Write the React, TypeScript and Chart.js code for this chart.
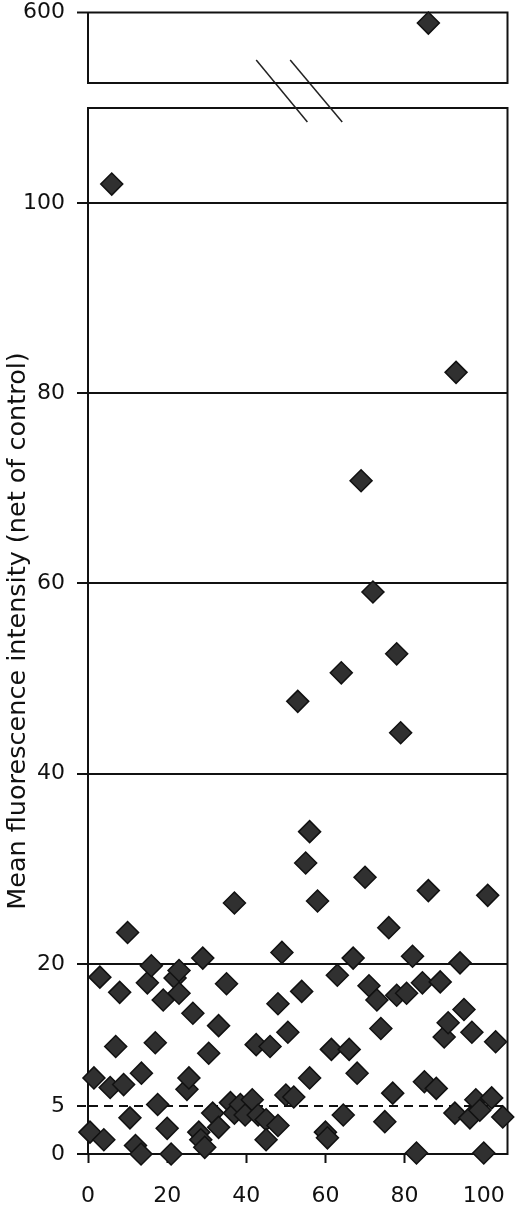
import { useEffect, useRef } from "react";
import { Chart, registerables } from "chart.js";

Chart.register(...registerables);

// Sample number (x) and mean fluorescence intensity, net of control (y)
const sampleIndex = [
  0.5, 1.5, 3, 4, 5.6, 6, 7, 8, 9, 10, 10.6, 12, 13.4, 13.5, 15, 16, 17, 17.6, 19, 20,
  21, 22, 23, 23, 25, 25.5, 26.5, 28, 28.5, 29, 29.5, 30.5, 31.5, 33, 33, 35, 36, 37, 37, 38.5,
  39.7, 41.5, 42.5, 43, 45, 45, 46, 48, 48, 49, 50, 50.5, 52, 53, 54, 55, 56, 56, 58, 60,
  60.5, 61.5, 63, 64, 64.5, 66, 67, 68, 69, 70, 71, 72, 73, 74, 75, 76, 77, 78, 78, 79,
  80.5, 82, 83, 84.5, 85, 86, 86, 88, 89, 90, 91, 92.7, 93, 94, 95, 96.5, 97, 98, 99, 100,
  101, 102, 103, 104.8,
];
const fluorescence = [
  2.3, 8.0, 18.6, 1.5, 7.0, 102, 11.3, 17.0, 7.3, 23.3, 3.8, 0.9, 0, 8.5, 18.0, 19.8, 11.7, 5.2, 16.2, 2.7,
  0, 18.5, 19.3, 16.9, 6.8, 8.0, 14.8, 2.3, 1.5, 20.6, 0.7, 10.6, 4.3, 13.5, 2.8, 17.9, 5.4, 26.4, 4.3, 5.2,
  4.1, 5.7, 11.5, 4.1, 3.6, 1.5, 11.3, 15.8, 3.0, 21.2, 6.2, 12.8, 6.0, 47.6, 17.1, 30.6, 33.9, 8.0, 26.6, 2.3,
  1.7, 11.0, 18.8, 50.6, 4.1, 11.0, 20.6, 8.5, 70.8, 29.1, 17.7, 59.1, 16.2, 13.2, 3.4, 23.8, 6.4, 52.6, 16.7, 44.3,
  16.9, 20.8, 0.1, 18.0, 7.6, 27.7, 585, 6.9, 18.1, 12.3, 13.8, 4.3, 82.2, 20.1, 15.2, 3.8, 12.8, 5.7, 4.6, 0.1,
  27.2, 5.9, 11.8, 3.9,
];

const mainYTicks = [0, 5, 20, 40, 60, 80, 100];
const topYTicks = [600];
const xTicks = [0, 20, 40, 60, 80, 100];
const dashedTick = 5;

const X_MIN = 0;
const X_MAX = 106;
const MAIN_MIN = 0;
const MAIN_MAX = 110;
const TOP_MIN = 500;
const TOP_MAX = 600;

const yTitle = "Mean fluorescence intensity (net of control)";

const FONT = "'DejaVu Sans', sans-serif";
const INK = "#111";
const LINE_W = 2;

const noPad = (s: any) => {
  s.paddingLeft = 0;
  s.paddingRight = 0;
  s.paddingTop = 0;
  s.paddingBottom = 0;
};

const framePlugin = {
  id: "frame",
  beforeDatasetsDraw(chart: any) {
    const { ctx, chartArea } = chart;
    ctx.save();
    ctx.strokeStyle = INK;
    ctx.lineWidth = LINE_W;
    ctx.strokeRect(chartArea.left, chartArea.top, chartArea.right - chartArea.left, chartArea.bottom - chartArea.top);
    ctx.restore();
  },
};

const breakPlugin = {
  id: "axisBreak",
  afterDraw(chart: any) {
    const { ctx, chartArea } = chart;
    const w = chartArea.right - chartArea.left;
    const t = chartArea.top;
    ctx.save();
    ctx.strokeStyle = "#222";
    ctx.lineWidth = 1.5;
    const marks = [
      [0.401, 0.523],
      [0.482, 0.606],
    ];
    for (const [a, b] of marks) {
      ctx.beginPath();
      ctx.moveTo(chartArea.left + a * w, t - 48);
      ctx.lineTo(chartArea.left + b * w, t + 14);
      ctx.stroke();
    }
    ctx.restore();
  },
};

const pointStyle = {
  pointStyle: "rectRot" as const,
  pointRadius: 11,
  pointBackgroundColor: "#303030",
  pointBorderColor: "#111",
  pointBorderWidth: 1.5,
  showLine: false,
  clip: false as const,
};

export default function App() {
  const mainRef = useRef<HTMLCanvasElement>(null);
  const topRef = useRef<HTMLCanvasElement>(null);

  useEffect(() => {
    const pts = sampleIndex.map((x, i) => ({ x, y: fluorescence[i] }));
    const mainPts = pts.filter((p) => p.y <= MAIN_MAX);
    const topPts = pts.filter((p) => p.y > MAIN_MAX);

    const tickFont = { family: FONT, size: 22 };

    const main = new Chart(mainRef.current as HTMLCanvasElement, {
      type: "scatter",
      data: { datasets: [{ data: mainPts, ...pointStyle }] },
      options: {
        animation: false,
        responsive: false,
        events: [],
        layout: { padding: { top: 108, right: 11, left: 0, bottom: 0 } },
        plugins: { legend: { display: false }, tooltip: { enabled: false } },
        scales: {
          x: {
            type: "linear",
            min: X_MIN,
            max: X_MAX,
            afterBuildTicks: (s: any) => {
              s.ticks = xTicks.map((v) => ({ value: v }));
            },
            afterFit: (s: any) => {
              s.height = 54;
              noPad(s);
            },
            ticks: { font: tickFont, color: INK, padding: 20, maxRotation: 0 },
            grid: { drawOnChartArea: false, drawTicks: true, tickLength: 9, tickWidth: LINE_W, tickColor: INK, color: INK },
            border: { display: true, color: INK, width: LINE_W },
          },
          y: {
            type: "linear",
            min: MAIN_MIN,
            max: MAIN_MAX,
            afterBuildTicks: (s: any) => {
              s.ticks = mainYTicks.map((v) => ({ value: v }));
            },
            afterFit: (s: any) => {
              s.width = 88;
              noPad(s);
            },
            ticks: { font: tickFont, color: INK, padding: 12 },
            grid: {
              color: INK,
              lineWidth: LINE_W,
              drawTicks: true,
              tickLength: 11,
              tickWidth: LINE_W,
              tickColor: INK,
              tickBorderDash: (c: any) => (c.tick && c.tick.value === dashedTick ? [9, 6] : []),
            },
            border: {
              display: true,
              color: INK,
              width: LINE_W,
              dash: (c: any) => (c.tick && c.tick.value === dashedTick ? [9, 6] : []),
            },
            title: {
              display: true,
              text: yTitle,
              font: { family: FONT, size: 25.5 },
              color: INK,
              padding: { top: 3, bottom: 0 },
            },
          },
        },
      } as any,
      plugins: [framePlugin, breakPlugin],
    });

    const top = new Chart(topRef.current as HTMLCanvasElement, {
      type: "scatter",
      data: { datasets: [{ data: topPts, ...pointStyle }] },
      options: {
        animation: false,
        responsive: false,
        events: [],
        layout: { padding: { top: 10, right: 11, left: 0, bottom: 17 } },
        plugins: { legend: { display: false }, tooltip: { enabled: false } },
        scales: {
          x: { type: "linear", min: X_MIN, max: X_MAX, display: false },
          y: {
            type: "linear",
            min: TOP_MIN,
            max: TOP_MAX,
            afterBuildTicks: (s: any) => {
              s.ticks = topYTicks.map((v) => ({ value: v }));
            },
            afterFit: (s: any) => {
              s.width = 88;
              noPad(s);
            },
            ticks: { font: tickFont, color: INK, padding: 12 },
            grid: { drawOnChartArea: false, drawTicks: true, tickLength: 11, tickWidth: LINE_W, tickColor: INK, color: INK },
            border: { display: true, color: INK, width: LINE_W },
          },
        },
      } as any,
      plugins: [framePlugin],
    });

    return () => {
      main.destroy();
      top.destroy();
    };
  }, []);

  return (
    <div style={{ position: "absolute", left: 0, top: 0, width: 520, height: 1208, background: "#fff" }}>
      <canvas ref={mainRef} width={520} height={1208} style={{ position: "absolute", left: 0, top: 0 }} />
      <canvas ref={topRef} width={520} height={100} style={{ position: "absolute", left: 0, top: 0 }} />
    </div>
  );
}
